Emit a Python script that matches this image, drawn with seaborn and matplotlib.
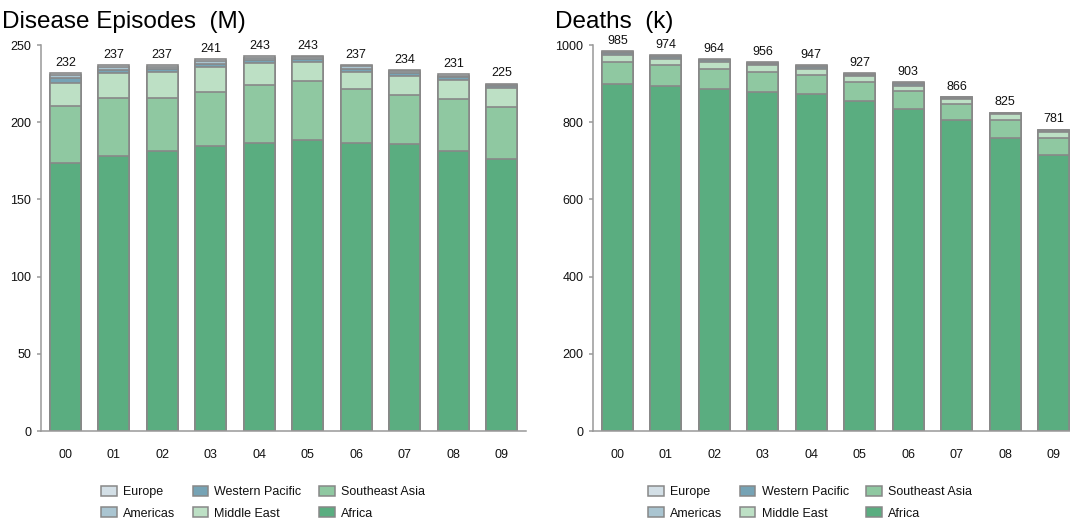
import numpy as np
import pandas as pd
import seaborn as sns
import matplotlib.pyplot as plt
from matplotlib.patches import Patch

# Data
years = ["00", "01", "02", "03", "04", "05", "06", "07", "08", "09"]
regions = ["Africa", "Southeast Asia", "Middle East", "Western Pacific", "Americas", "Europe"]

# Disease episodes (millions)
ep_africa = [173.4, 178.0, 181.6, 184.8, 186.8, 188.7, 186.8, 185.9, 181.6, 176.0]
ep_seasia = [37.1, 37.9, 34.3, 35.0, 37.3, 38.2, 34.5, 31.7, 33.6, 33.6]
ep_mideast = [15.1, 15.7, 16.8, 15.7, 14.0, 12.1, 11.4, 12.5, 12.1, 12.3]
ep_wpacific = [2.8, 2.4, 1.8, 2.5, 2.2, 1.9, 2.0, 1.8, 1.7, 1.4]
ep_americas = [2.2, 1.8, 1.5, 1.8, 1.6, 1.3, 1.4, 1.3, 1.2, 1.0]
ep_europe = [1.4, 1.2, 1.0, 1.2, 1.1, 0.8, 0.9, 0.8, 0.8, 0.7]

# Deaths (thousands)
de_africa = [900, 893, 886, 879, 872, 854, 833, 805, 758, 714]
de_seasia = [57, 54, 51, 50, 50, 51, 47, 43, 47, 46]
de_mideast = [18, 17, 20, 20, 16, 14, 15, 12, 15, 14]
de_wpacific = [5, 5, 3, 3, 4, 3, 3, 2, 2, 3]
de_americas = [3, 3, 2, 2, 3, 3, 3, 2, 2, 2]
de_europe = [2, 2, 2, 2, 2, 2, 2, 2, 1, 2]

colors = {
    "Africa": "#5aad80",
    "Southeast Asia": "#8fc8a1",
    "Middle East": "#bde0c5",
    "Western Pacific": "#76a3b5",
    "Americas": "#aac5d1",
    "Europe": "#d3dfe6",
}
edge = "#888888"
axis_grey = "#999999"
text_col = "#111111"

sns.set_style("white")
plt.rcParams['font.family'] = ['Liberation Sans', 'DejaVu Sans']
plt.rcParams['text.color'] = text_col


def stacked_panel(ax, layers, ymax, yticks):
    df = pd.DataFrame(layers, index=regions).T
    df["year"] = years
    cum = df[regions].cumsum(axis=1)
    # draw from the tallest cumulative layer down so smaller ones sit on top
    for reg in reversed(regions):
        sns.barplot(x=years, y=cum[reg].values, color=colors[reg], saturation=1,
                    width=0.64, edgecolor=edge, linewidth=1.2, ax=ax)
    totals = cum[regions[-1]].values
    for i, t in enumerate(totals):
        ax.annotate(f"{t:.0f}", (i, t), xytext=(0, 3), textcoords="offset points",
                    ha="center", va="bottom", fontsize=9, color=text_col)
    ax.set_xlim(-0.5, len(years) - 0.5)
    ax.set_ylim(0, ymax)
    ax.set_yticks(yticks)
    ax.set_xticks(range(len(years)))
    ax.set_xticklabels(years)
    ax.set_xticks(np.arange(-0.5, len(years), 1), minor=True)
    ax.tick_params(axis="x", which="major", length=0, pad=13, labelsize=9, labelcolor=text_col)
    ax.tick_params(axis="x", which="minor", length=4, width=1.1, color=axis_grey, direction="out")
    ax.tick_params(axis="y", length=3, width=1.1, color=axis_grey, pad=4, labelsize=9,
                   labelcolor=text_col, left=True)
    for s in ["top", "right"]:
        ax.spines[s].set_visible(False)
    for s in ["left", "bottom"]:
        ax.spines[s].set_color(axis_grey)
        ax.spines[s].set_linewidth(1.1)
    ax.set_xlabel("")
    ax.set_ylabel("")


fig = plt.figure(figsize=(10.7, 5.27), dpi=100)
W, H = 1070, 527
ax1 = fig.add_axes([41 / W, 1 - 431 / H, 485 / W, 386 / H])
ax2 = fig.add_axes([593 / W, 1 - 431 / H, 485 / W, 386 / H])

stacked_panel(ax1, [ep_africa, ep_seasia, ep_mideast, ep_wpacific, ep_americas, ep_europe],
              250, [0, 50, 100, 150, 200, 250])
stacked_panel(ax2, [de_africa, de_seasia, de_mideast, de_wpacific, de_americas, de_europe],
              1000, [0, 200, 400, 600, 800, 1000])

fig.text(2 / W, 1 - 28 / H, "Disease Episodes  (M)", fontsize=17.5, va="baseline", ha="left",
         color="black")
fig.text(555 / W, 1 - 28 / H, "Deaths  (k)", fontsize=17.5, va="baseline", ha="left",
         color="black")

legend_order = ["Europe", "Americas", "Western Pacific", "Middle East", "Southeast Asia", "Africa"]
handles = [Patch(facecolor=colors[r], edgecolor=edge, linewidth=1.1, label=r) for r in legend_order]
for x0 in (101, 648):
    fig.legend(handles=handles, ncol=3, loc="upper left", bbox_to_anchor=(x0 / W, 1 - 486 / H),
               frameon=False, fontsize=9, handlelength=1.25, handleheight=0.85,
               handletextpad=0.5, columnspacing=1.4, labelspacing=0.72,
               borderpad=0, borderaxespad=0)

fig.savefig("out.png", dpi=100)
